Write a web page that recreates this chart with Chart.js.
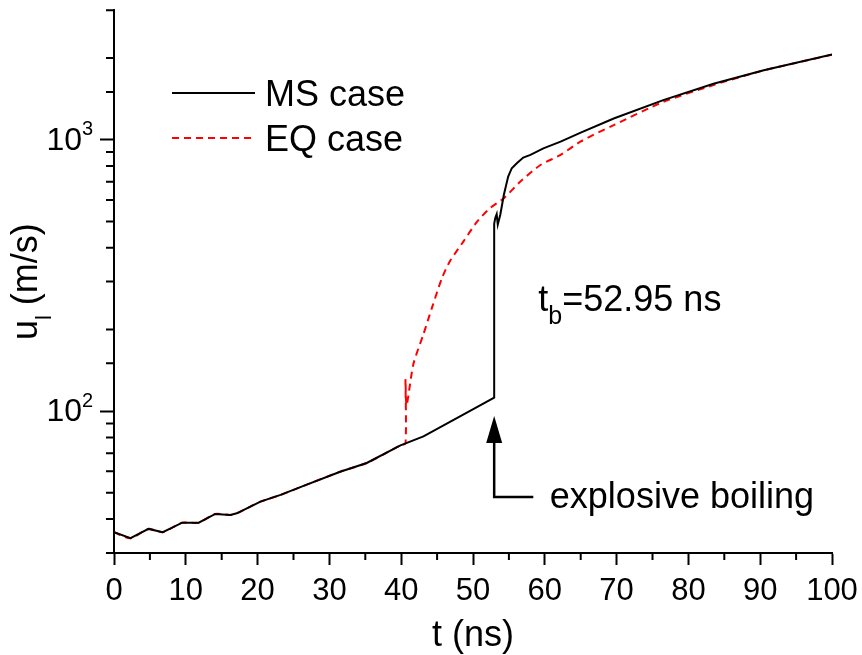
<!DOCTYPE html>
<html>
<head>
<meta charset="utf-8">
<script src="https://cdn.jsdelivr.net/npm/chart.js@4.4.1/dist/chart.umd.min.js"></script>
<style>
  body { margin: 0; background: #fff; }
  #wrap { width: 862px; height: 655px; }
</style>
</head>
<body>
<div id="wrap"><canvas id="myChart" width="862" height="655"></canvas></div>
<script>
// MS case (black solid)
const tMS = [0, 2.3, 4.8, 6.8, 9.5, 11.8, 14.1, 16.2, 17.1, 19, 20.4, 23.2, 26.4, 31.5, 35.2, 39.9, 43.1, 47.3, 50.1, 52.95,
             52.95, 53.1, 53.3, 53.45, 53.8, 54.3, 54.9, 55.4, 56.1, 57.0, 58, 59.8, 62.2, 65, 69.6, 76.5, 83.5, 90.5, 100];
const uMS = [35.8, 34.0, 36.8, 35.8, 38.8, 38.8, 41.8, 41.4, 42, 44.5, 46.4, 49.1, 53.0, 59.8, 64.4, 74.8, 80.7, 92.8, 102, 112,
             490, 515, 532, 487, 529, 627, 731, 785, 819, 859, 879, 929, 984, 1062, 1197, 1399, 1608, 1801, 2060];

// EQ case (red dashed)
const tEQ = [0, 2.3, 4.8, 6.8, 9.5, 11.8, 14.1, 16.2, 17.1, 19, 20.4, 23.2, 26.4, 31.5, 35.2, 39.9, 40.6,
             40.6, 40.75, 41.7, 43.1, 44.3, 45.7, 46.8, 48.7, 50.6, 52.4, 54.3, 56.6, 59.4, 62.2, 65, 69.6, 76.5, 83.5, 90.5, 100];
const uEQ = [35.8, 34.0, 36.8, 35.8, 38.8, 38.8, 41.8, 41.4, 42, 44.5, 46.4, 49.1, 53.0, 59.8, 64.4, 74.8, 76,
             131, 105, 149, 192, 241, 310, 357, 423, 500, 560, 609, 701, 807, 879, 985, 1132, 1377, 1590, 1800, 2056];

const xTicks = [0, 10, 20, 30, 40, 50, 60, 70, 80, 90, 100];
const tb = 52.95;

const FONT = "'Liberation Sans', Arial, sans-serif";

function toPts(xs, ys) {
    return xs.map((x, i) => ({ x: x, y: ys[i] }));
}
function isPow10(v) {
    const l = Math.log10(v);
    return Math.abs(l - Math.round(l)) < 1e-9;
}

const decorPlugin = {
    id: 'decor',
    afterDraw(chart) {
        const c = chart.ctx;
        const xs = chart.scales.x, ys = chart.scales.y;
        const a = chart.chartArea;
        c.save();
        c.strokeStyle = '#000';
        c.fillStyle = '#000';
        c.lineWidth = 2;

        // minor ticks
        c.beginPath();
        xs.ticks.forEach(t => {
            if (t.value % 10 !== 0) {
                const px = xs.getPixelForValue(t.value);
                c.moveTo(px, a.bottom);
                c.lineTo(px, a.bottom + 7);
            }
        });
        ys.ticks.forEach(t => {
            if (!isPow10(t.value)) {
                const py = ys.getPixelForValue(t.value);
                c.moveTo(a.left - 8, py);
                c.lineTo(a.left, py);
            }
        });
        c.stroke();

        // y tick labels 10^n
        ys.ticks.forEach(t => {
            if (isPow10(t.value)) {
                const py = ys.getPixelForValue(t.value);
                const e = Math.round(Math.log10(t.value));
                c.font = '32px ' + FONT;
                c.textBaseline = 'middle';
                c.textAlign = 'right';
                c.fillText('10', a.left - 32, py + 1);
                c.font = '20px ' + FONT;
                c.textAlign = 'left';
                c.fillText(String(e), a.left - 32, py - 10);
            }
        });

        // x axis title
        c.font = '36px ' + FONT;
        c.textAlign = 'center';
        c.textBaseline = 'alphabetic';
        c.fillText('t (ns)', (a.left + a.right) / 2, 646);

        // y axis title u_l (m/s)
        c.save();
        c.translate(37, (a.top + a.bottom) / 2);
        c.rotate(-Math.PI / 2);
        c.font = '36px ' + FONT;
        const wU = c.measureText('u').width;
        const wRest = c.measureText(' (m/s)').width;
        c.font = '22px ' + FONT;
        const wL = c.measureText('l').width;
        const total = wU + wL + wRest;
        const x0 = -total / 2;
        c.textAlign = 'left';
        c.font = '36px ' + FONT;
        c.fillText('u', x0, 0);
        c.font = '22px ' + FONT;
        c.fillText('l', x0 + wU, 14);
        c.font = '36px ' + FONT;
        c.fillText(' (m/s)', x0 + wU + wL, 0);
        c.restore();

        // legend
        c.lineWidth = 2;
        c.beginPath();
        c.moveTo(172, 93);
        c.lineTo(255, 93);
        c.stroke();
        c.strokeStyle = '#ff0000';
        c.setLineDash([7, 5]);
        c.beginPath();
        c.moveTo(172, 138);
        c.lineTo(255, 138);
        c.stroke();
        c.setLineDash([]);
        c.font = '36px ' + FONT;
        c.textAlign = 'left';
        c.textBaseline = 'alphabetic';
        c.fillText('MS case', 265, 106);
        c.fillText('EQ case', 265, 151);

        // t_b annotation
        const bx = xs.getPixelForValue(59.1);
        const by = ys.getPixelForValue(259);
        c.font = '36px ' + FONT;
        c.fillText('t', bx, by + 12);
        const wt = c.measureText('t').width;
        c.font = '25px ' + FONT;
        c.fillText('b', bx + wt, by + 25);
        const wb = c.measureText('b').width;
        c.font = '36px ' + FONT;
        c.fillText('=' + tb + ' ns', bx + wt + wb, by + 12);

        // arrow to the jump
        const ax = xs.getPixelForValue(tb);
        const tipY = ys.getPixelForValue(96);
        const baseY = ys.getPixelForValue(48.2);
        const endX = xs.getPixelForValue(58.4);
        c.strokeStyle = '#000';
        c.lineWidth = 2.5;
        c.beginPath();
        c.moveTo(ax, tipY + 20);
        c.lineTo(ax, baseY);
        c.lineTo(endX, baseY);
        c.stroke();
        c.beginPath();
        c.moveTo(ax, tipY);
        c.lineTo(ax - 8, tipY + 27);
        c.lineTo(ax + 8, tipY + 27);
        c.closePath();
        c.fill();

        c.font = '36px ' + FONT;
        c.fillText('explosive boiling', xs.getPixelForValue(60.7), baseY + 11);

        c.restore();
    }
};

const ctx = document.getElementById('myChart').getContext('2d');

const grafico = new Chart(ctx, {
    type: 'line',
    data: {
        datasets: [{
            label: 'MS case',
            data: toPts(tMS, uMS),
            borderColor: '#000000',
            borderWidth: 2,
            pointRadius: 0,
            tension: 0,
            fill: false
        }, {
            label: 'EQ case',
            data: toPts(tEQ, uEQ),
            borderColor: '#ff0000',
            borderWidth: 2,
            borderDash: [7, 5],
            pointRadius: 0,
            tension: 0.25,
            fill: false
        }]
    },
    options: {
        responsive: false,
        animation: false,
        layout: { padding: { left: 0, right: 30, top: 8, bottom: 0 } },
        plugins: {
            legend: { display: false },
            tooltip: { enabled: false }
        },
        scales: {
            x: {
                type: 'linear',
                min: 0,
                max: 100,
                afterFit: s => { s.height = 102; s.paddingRight = 0; s.paddingLeft = 0; },
                afterBuildTicks: s => {
                    s.ticks = [];
                    for (let v = 0; v <= 100; v += 5) s.ticks.push({ value: v });
                },
                border: { display: true, color: '#000', width: 2 },
                grid: {
                    drawOnChartArea: false,
                    drawTicks: true,
                    tickLength: 12,
                    tickWidth: 2,
                    tickColor: c => (c.tick && xTicks.includes(c.tick.value)) ? '#000' : 'rgba(0,0,0,0)'
                },
                ticks: {
                    autoSkip: false,
                    maxRotation: 0,
                    padding: 8,
                    color: '#000',
                    font: { family: FONT, size: 31 },
                    callback: v => xTicks.includes(v) ? String(v) : ''
                }
            },
            y: {
                type: 'logarithmic',
                min: 30,
                max: 3000,
                afterFit: s => { s.width = 114; },
                border: { display: true, color: '#000', width: 2 },
                grid: {
                    drawOnChartArea: false,
                    drawTicks: true,
                    tickLength: 14,
                    tickWidth: 2,
                    tickColor: c => (c.tick && isPow10(c.tick.value)) ? '#000' : 'rgba(0,0,0,0)'
                },
                ticks: {
                    autoSkip: false,
                    callback: () => ''
                }
            }
        }
    },
    plugins: [decorPlugin]
});
</script>
</body>
</html>
